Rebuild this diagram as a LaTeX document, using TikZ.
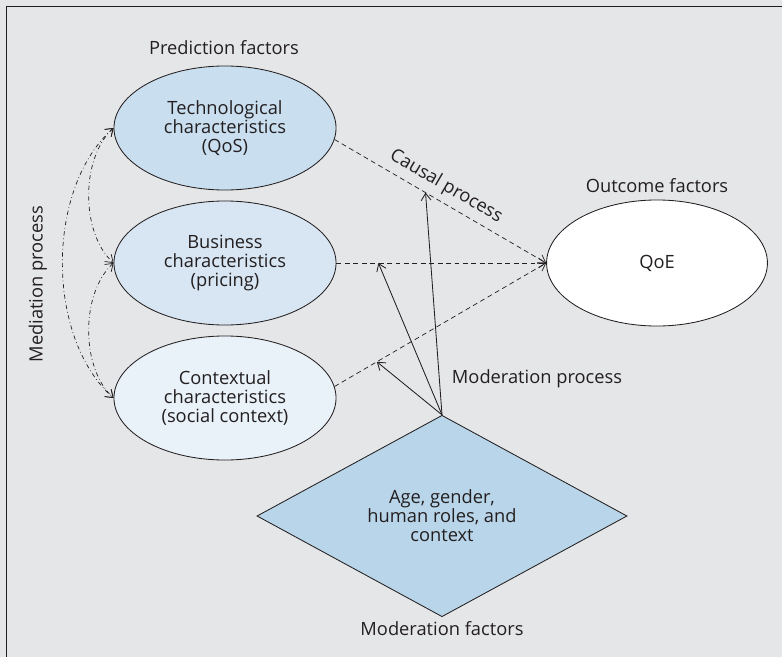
\documentclass[tikz,border=0pt]{standalone}
\usepackage{fontspec}
\setmainfont{Open Sans}
\usepackage{xcolor}
\usetikzlibrary{arrows.meta,shapes.geometric}
\definecolor{bggray}{HTML}{E5E6E8}
\definecolor{inkgray}{HTML}{231F20}
\definecolor{techblue}{HTML}{C9DEEF}
\definecolor{bizblue}{HTML}{D8E6F3}
\definecolor{ctxblue}{HTML}{E9F1F9}
\definecolor{modblue}{HTML}{B9D5E9}
\tikzset{
	factor/.style = {shape=ellipse, draw=inkgray, line width=0.6pt, inner sep=0pt, align=center, minimum width=5.55cm, minimum height=3.1cm},
	caption/.style = {text=inkgray, align=center},
	causal/.style = {draw=inkgray, line width=0.5pt, dash pattern=on 3.5pt off 2.5pt, ->},
	mediation/.style = {draw=inkgray, line width=0.5pt, dash dot, <->},
	moderation/.style = {draw=inkgray, line width=0.6pt, ->}
}

\begin{document}
\begin{tikzpicture}[
    x=0.025cm, y=-0.025cm,
    >={Straight Barb[length=5pt,width=7pt]},
    font=\fontsize{13}{13.6}\selectfont,
    text=inkgray
    ]

 		\fill[bggray] (0,0) rectangle (782,657);
 		\useasboundingbox (0,0) rectangle (782,657);
 		\draw[inkgray, line width=1.1pt] (6.5,657) -- (6.5,6.5) -- (782,6.5);

 		\node[factor, fill=techblue](tech) at (225,128) {Technological\\characteristics\\(QoS)};
 		\node[factor, fill=bizblue](biz) at (225,263) {Business\\characteristics\\(pricing)};
 		\node[factor, fill=ctxblue](ctx) at (225,398) {Contextual\\characteristics\\(social context)};
 		\node[factor, fill=white, minimum width=5.52cm, minimum height=3.15cm](qoe) at (657,263) {QoE};
 		\node[shape=diamond, draw=inkgray, line width=0.6pt, fill=modblue, inner sep=0pt, align=center,
 		      minimum width=9.25cm, minimum height=4.88cm](mod) at (442,516)
 		      {Age, gender,\\human roles, and\\context};

 		\node[caption](predlabel) at (224,48) {Prediction factors};
 		\node[caption](outlabel) at (657,186) {Outcome factors};
 		\node[caption](modproc) at (537,379) {Moderation process};
 		\node[caption](modfact) at (442,629) {Moderation factors};
 		\node[caption, rotate=90](medproc) at (38,284) {Mediation process};

 		\draw[causal] (tech.-6) -- (qoe.west)
 		    coordinate[pos=0.43] (c1)
 		    node[pos=0.49, sloped, above=1pt] {Causal process};
 		\draw[causal] (biz.east) -- (qoe.west) coordinate[pos=0.2] (c2);
 		\draw[causal] (ctx.6) -- (qoe.west) coordinate[pos=0.2] (c3);

 		\draw[moderation] (mod.north) -- (c1);
 		\draw[moderation] (mod.north) -- (c2);
 		\draw[moderation] (mod.north) -- (c3);

 		\draw[mediation] (tech.west) .. controls +(-33,30) and +(-33,-30) .. (biz.west);
 		\draw[mediation] (biz.west) .. controls +(-33,30) and +(-33,-30) .. (ctx.west);
 		\draw[mediation] (tech.west) .. controls +(-68,60) and +(-68,-60) .. (ctx.west);
\end{tikzpicture}
\end{document}
